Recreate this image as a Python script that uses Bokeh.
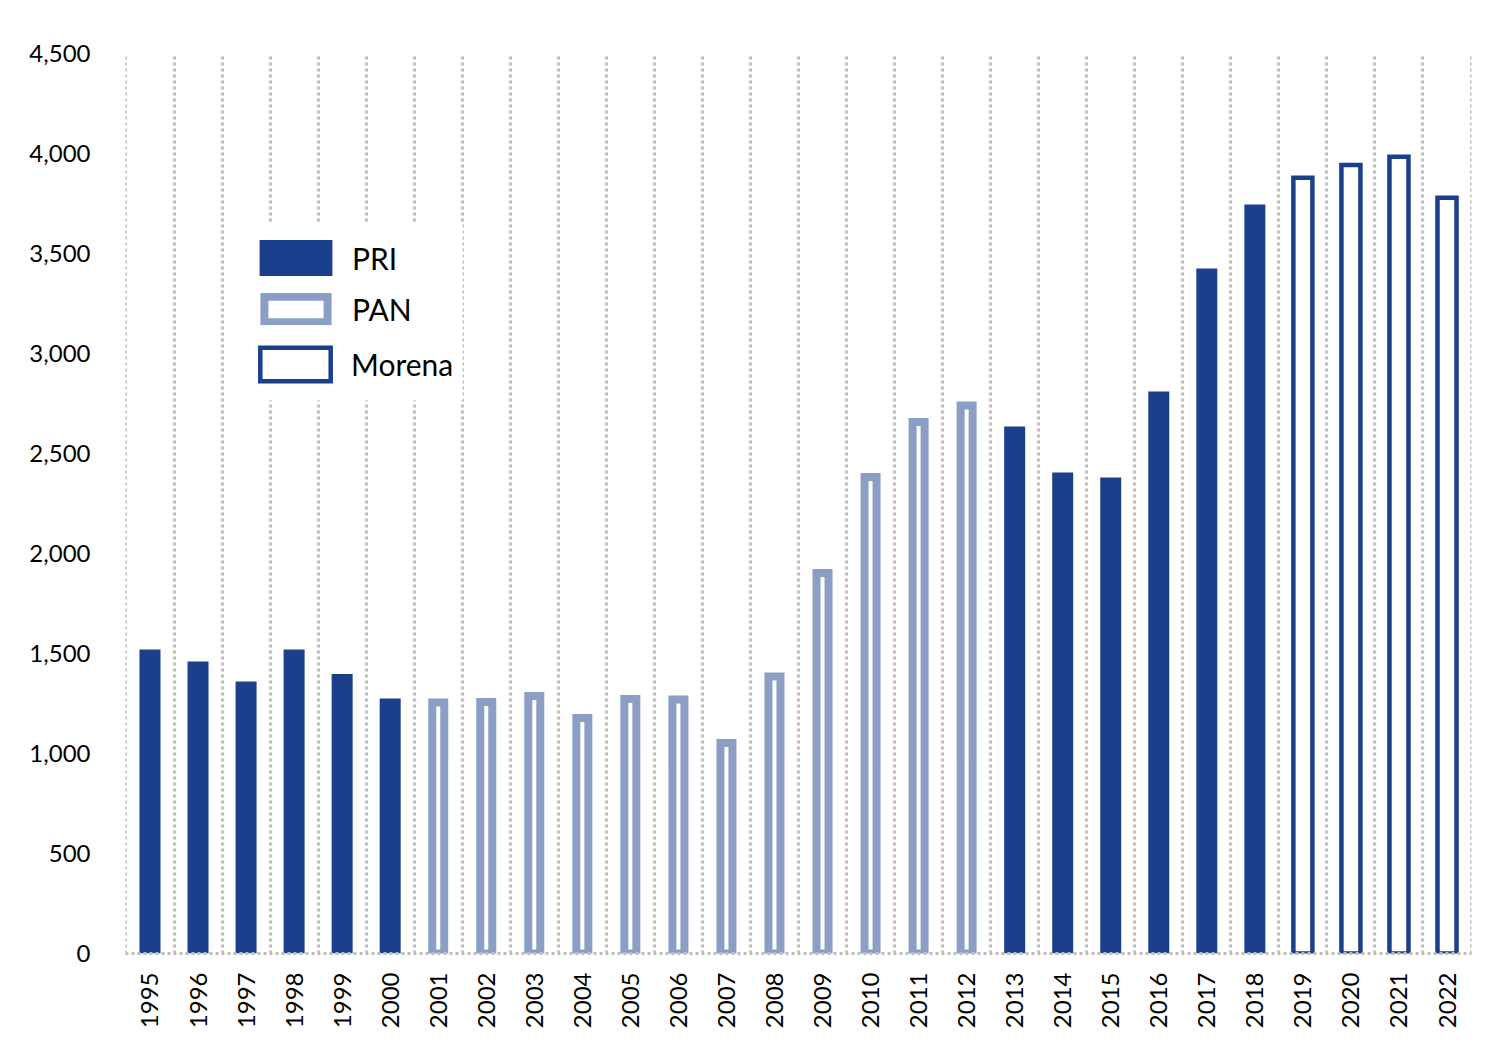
import math
from bokeh.plotting import figure
from bokeh.models import (FactorRange, Range1d, FixedTicker, NumeralTickFormatter,
                          Legend, LegendItem, ColumnDataSource, BoxAnnotation)
from bokeh.embed import file_html
from bokeh.resources import INLINE

# ---- data ----
years = [str(y) for y in range(1995, 2023)]
party = (["PRI"] * 6 + ["PAN"] * 12 + ["PRI"] * 6 + ["Morena"] * 4)
values = [1520, 1460, 1360, 1520, 1397, 1275,
          1255, 1258, 1288, 1178, 1273, 1270, 1053, 1385, 1903, 2383, 2657, 2740,
          2635, 2405, 2380, 2810, 3425, 3745,
          3879, 3942, 3984, 3779]
y_ticks = [0, 500, 1000, 1500, 2000, 2500, 3000, 3500, 4000, 4500]
parties = ["PRI", "PAN", "Morena"]

# ---- style ----
DARK = "#1c3f8c"
LIGHT = "#8b9fc6"
GRID = "#bdbdbd"
FONT = "Lato"

W, H = 1479, 1036
xr = FactorRange(*years, range_padding=0.01, range_padding_units="absolute")
p = figure(width=W, height=H, x_range=xr, y_range=Range1d(0, 4500),
           output_backend="svg", toolbar_location=None,
           min_border_left=125, min_border_right=8, min_border_top=53, min_border_bottom=83)
p.outline_line_color = None
p.background_fill_color = "white"

def subset(name):
    xs = [y for y, pt in zip(years, party) if pt == name]
    vs = [v for v, pt in zip(values, party) if pt == name]
    return ColumnDataSource(dict(x=xs, top=vs))

r_pri = p.vbar(x="x", top="top", bottom=0, width=0.4375, source=subset("PRI"),
               fill_color=DARK, line_color=None)
r_pan = p.vbar(x="x", top="top", bottom=0, width=0.25, source=subset("PAN"),
               fill_color="white", line_color=LIGHT, line_width=8, line_join="miter")
r_mor = p.vbar(x="x", top="top", bottom=0, width=0.396, source=subset("Morena"),
               fill_color="white", line_color=DARK, line_width=4.5, line_join="miter")

# grids
p.ygrid.grid_line_color = None
p.xgrid.ticker = FixedTicker(ticks=list(range(0, len(years) + 1)))
p.xgrid.grid_line_color = GRID
p.xgrid.grid_line_width = 3
p.xgrid.grid_line_dash = "3 3"

# y axis
p.yaxis.ticker = FixedTicker(ticks=y_ticks)
p.yaxis.formatter = NumeralTickFormatter(format="0,0")
p.yaxis.axis_line_color = None
p.yaxis.major_tick_line_color = None
p.yaxis.minor_tick_line_color = None
p.yaxis.major_tick_out = 0
p.yaxis.major_tick_in = 0
p.yaxis.major_label_standoff = 35
p.yaxis.major_label_text_font = FONT
p.yaxis.major_label_text_font_size = "24px"
p.yaxis.major_label_text_color = "#000000"

# x axis
p.xaxis.axis_line_color = GRID
p.xaxis.axis_line_width = 3
p.xaxis.axis_line_dash = "3 3"
p.xaxis.major_tick_line_color = None
p.xaxis.minor_tick_line_color = None
p.xaxis.major_tick_out = 0
p.xaxis.major_tick_in = 0
p.xaxis.major_label_orientation = math.pi / 2
p.xaxis.major_label_standoff = 19
p.xaxis.major_label_text_font = FONT
p.xaxis.major_label_text_font_size = "24px"
p.xaxis.major_label_text_color = "#000000"

# legend background
box = BoxAnnotation(left=245, right=462, top=222, bottom=400,
                    left_units="canvas", right_units="canvas",
                    top_units="canvas", bottom_units="canvas",
                    fill_color="white", fill_alpha=1.0, line_color=None)
p.add_layout(box)

def mk_legend(label, rend, gw, gh, loc, standoff):
    lg = Legend(items=[LegendItem(label=label, renderers=[rend])],
                location=loc, glyph_width=gw, glyph_height=gh,
                label_standoff=standoff, padding=0, margin=0, spacing=0,
                border_line_color=None, background_fill_alpha=0,
                label_text_font=FONT, label_text_font_size="30px",
                label_text_color="#000000", label_height=20)
    p.add_layout(lg)

mk_legend(parties[0], r_pri, 91, 45, (125, 673), 11)
mk_legend(parties[1], r_pan, 79, 32, (131, 626), 17)
mk_legend(parties[2], r_mor, 88, 42, (126, 568), 12)

open("out.html", "w").write(file_html(p, INLINE))
